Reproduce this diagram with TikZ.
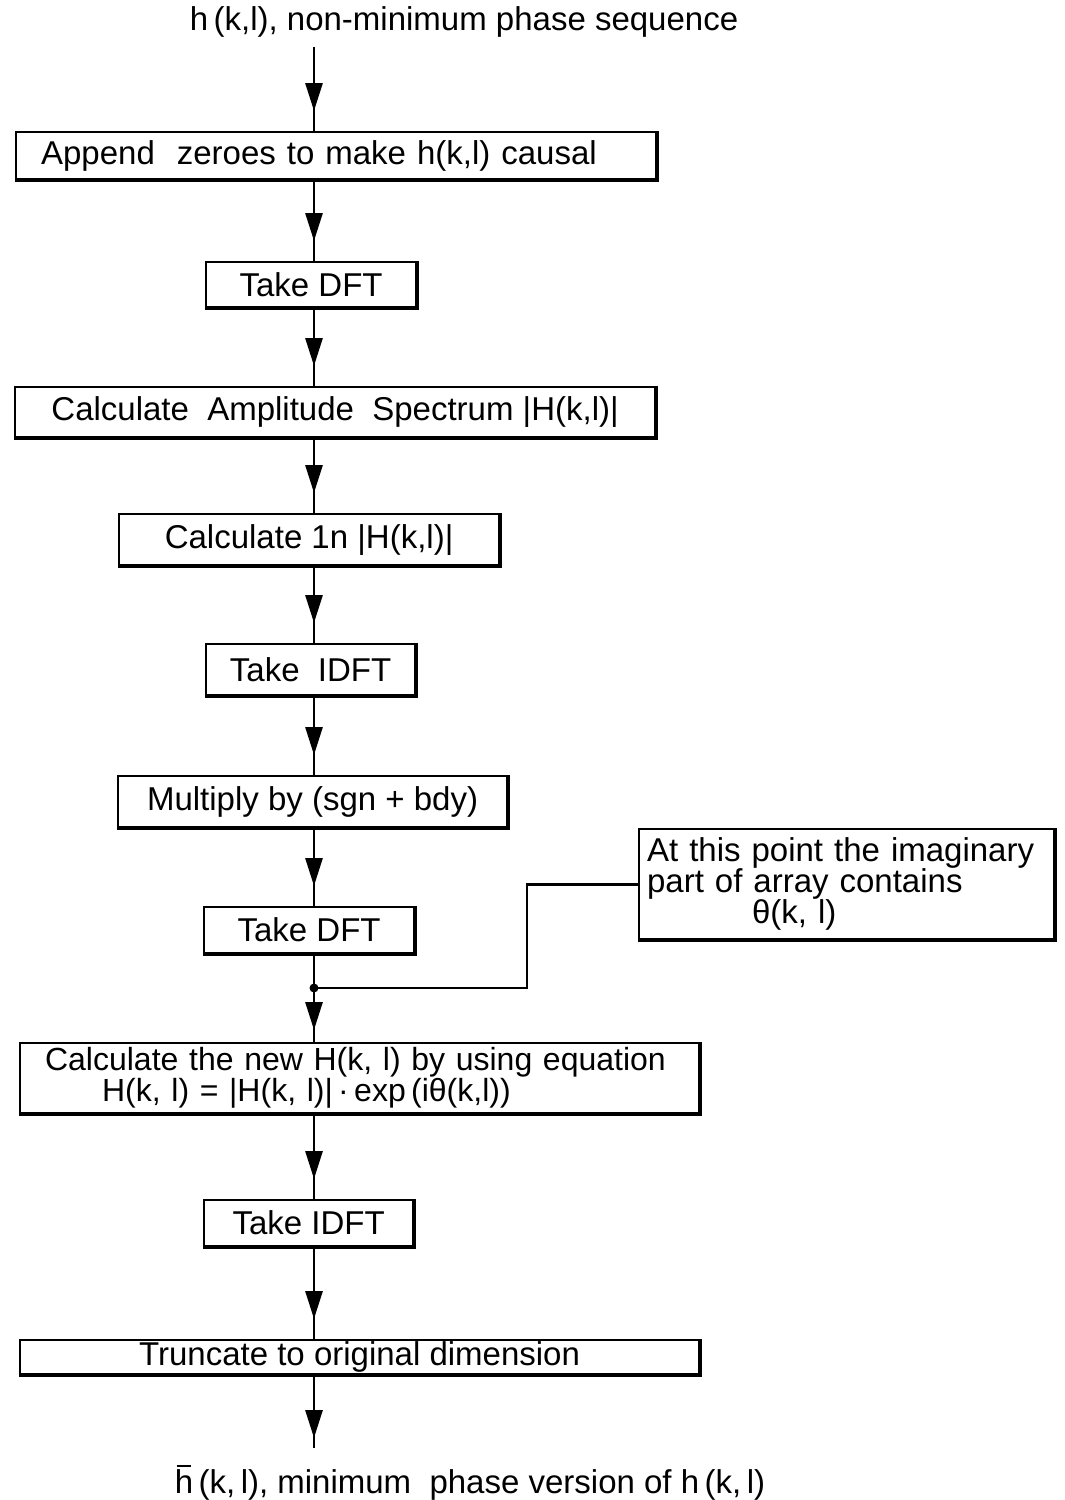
\documentclass[tikz,border=0pt]{standalone}
\usepackage{fontspec}
\setmainfont{Liberation Sans}
\usetikzlibrary{arrows.meta,decorations.markings}
\newcommand{\hbarred}{\makebox[0pt][l]{\hspace{0.06em}\raisebox{0.82em}{\rule{0.42em}{1.6pt}}}h}
\tikzset{
  txt/.style={font=\fontsize{33}{31}\selectfont},
  box/.style={draw,line width=2.2pt,inner xsep=0pt,inner ysep=0pt,anchor=north west,txt},
  flow/.style={line width=2.8pt,postaction={decorate},
    decoration={markings,mark=at position -#1 with {\arrow{Triangle[length=28pt,width=17pt]}}}},
  flow/.default=20pt,
  plain/.style={line width=2.8pt},
  shade/.style={line width=4.5pt}
}
\begin{document}
\begin{tikzpicture}[x=1pt,y=-1pt]
\fill[white] (0,0) rectangle (1065,1500);
\useasboundingbox (0,0) rectangle (1065,1500);
\coordinate (sp) at (314,0);

\node[txt] (top) at (464,22) {h\,(k,l), non-minimum phase sequence};

\node[box,minimum width=640pt,minimum height=47pt,text width=590pt,inner xsep=25pt,align=left] (b1) at (15,131) {Append\ \ zeroes to make h(k,l) causal};
\node[box,minimum width=210pt,minimum height=45pt] (b2) at (205,261) {Take DFT};
\node[box,minimum width=640pt,minimum height=50pt] (b3) at (14,386) {Calculate\ \ Amplitude\ \ Spectrum\ |H(k,l)|};
\node[box,minimum width=380pt,minimum height=51pt] (b4) at (118,513) {Calculate 1n |H(k,l)|};
\node[box,minimum width=209pt,minimum height=51pt] (b5) at (205,643) {Take\ \ IDFT};
\node[box,minimum width=389pt,minimum height=51pt] (b6) at (117,775) {Multiply by (sgn + bdy)};
\node[box,minimum width=210pt,minimum height=46pt] (b7) at (203,906) {Take DFT};
\node[box,minimum width=415pt,minimum height=110pt,text width=399pt,align=left,inner xsep=8pt] (note) at (638,828)
  {At this point the imaginary\\part of array contains\\\hspace*{105pt}θ(k, l)};
\node[box,minimum width=679pt,minimum height=70pt,text width=629pt,align=left,inner xsep=25pt,font=\fontsize{32}{27}\selectfont] (b9) at (19,1042)
  {Calculate the new H(k, l) by using equation\\\hspace*{57pt}H(k, l) = |H(k, l)|\,·\,exp\,(iθ(k,l))};
\node[box,minimum width=209pt,minimum height=46pt] (b10) at (203,1199) {Take IDFT};
\node[box,minimum width=679pt,minimum height=34pt] (b11) at (19,1339) {Truncate to original dimension};

\node[txt] (bot) at (470,1483) {\hbarred\,(k,\,l), minimum\ \ phase version of h\,(k,\,l)};

\foreach \n in {b1,b2,b3,b4,b5,b6,b7,note,b9,b10,b11}
  \draw[shade] (\n.north east) -- (\n.south east) -- (\n.south west);

\draw[flow] (top.south -| sp) ++(0,6) -- (b1.north -| sp);
\draw[flow] (b1.south -| sp) -- (b2.north -| sp);
\draw[flow] (b2.south -| sp) -- (b3.north -| sp);
\draw[flow] (b3.south -| sp) -- (b4.north -| sp);
\draw[flow] (b4.south -| sp) -- (b5.north -| sp);
\draw[flow] (b5.south -| sp) -- (b6.north -| sp);
\draw[flow] (b6.south -| sp) -- (b7.north -| sp);

\coordinate (j) at (314,988);
\coordinate (bend) at (527,988);
\draw[plain] (b7.south -| sp) -- (j);
\draw[plain] (note.west) -| (bend) -- (j);
\fill (j) circle (4.5pt);
\draw[flow=12pt] (j) -- (b9.north -| sp);
\draw[flow] (b9.south -| sp) -- (b10.north -| sp);
\draw[flow] (b10.south -| sp) -- (b11.north -| sp);
\coordinate (endp) at (314,1448);
\draw[flow=10pt] (b11.south -| sp) -- (endp);
\end{tikzpicture}
\end{document}
